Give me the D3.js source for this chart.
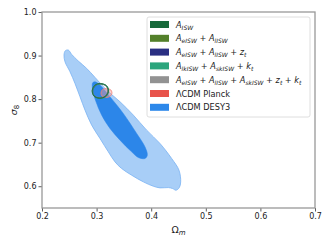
<!DOCTYPE html>
<html>
<head>
<meta charset="utf-8">
<script src="https://cdn.jsdelivr.net/npm/d3@7"></script>
<style>
  body { margin: 0; background: #fff; }
  svg { display: block; font-family: "DejaVu Sans", sans-serif; }
</style>
</head>
<body>
<svg id="chart" width="330" height="248"></svg>
<script>
// contour outlines, [Omega_m, sigma_8]
const desOuter = [
  [0.2427, 0.9111], [0.2482, 0.9126], [0.2543, 0.9027], [0.2665, 0.8874],
  [0.2818, 0.8705], [0.2971, 0.8498], [0.3184, 0.8207], [0.3429, 0.7939],
  [0.3673, 0.7632], [0.3917, 0.7287], [0.4161, 0.6981], [0.4375, 0.6636],
  [0.4509, 0.6368], [0.4540, 0.6100], [0.4515, 0.5969], [0.4454, 0.5908],
  [0.4393, 0.5946], [0.4314, 0.5969], [0.4161, 0.5962], [0.4039, 0.6000],
  [0.3856, 0.6100], [0.3642, 0.6253], [0.3459, 0.6406], [0.3337, 0.6559],
  [0.3215, 0.6789], [0.3062, 0.7096], [0.2910, 0.7402], [0.2788, 0.7747],
  [0.2696, 0.8054], [0.2604, 0.8360], [0.2513, 0.8628], [0.2421, 0.8858],
  [0.2403, 0.9011]
];
const desInner = [
  [0.2928, 0.8375], [0.2971, 0.8398], [0.3062, 0.8322], [0.3245, 0.8054],
  [0.3489, 0.7670], [0.3734, 0.7211], [0.3886, 0.6904], [0.3929, 0.6713],
  [0.3886, 0.6636], [0.3764, 0.6659], [0.3642, 0.6789], [0.3429, 0.7057],
  [0.3245, 0.7326], [0.3093, 0.7632], [0.2989, 0.7939], [0.2928, 0.8207]
];
const planck = [
  [0.318, 0.824], [0.326, 0.821], [0.328, 0.813], [0.324, 0.806],
  [0.317, 0.804], [0.310, 0.807], [0.308, 0.814], [0.311, 0.822]
];
const iswGray = [
  [0.307, 0.834], [0.317, 0.830], [0.321, 0.818], [0.316, 0.807],
  [0.306, 0.803], [0.296, 0.808], [0.293, 0.819], [0.298, 0.831]
];
const iswNavy = [
  [0.307, 0.835], [0.318, 0.830], [0.321, 0.818], [0.316, 0.806],
  [0.306, 0.802], [0.296, 0.807], [0.293, 0.819], [0.298, 0.831]
];
const iswOlive = [
  [0.306, 0.835], [0.317, 0.831], [0.321, 0.819], [0.316, 0.807],
  [0.305, 0.803], [0.295, 0.808], [0.292, 0.820], [0.297, 0.832]
];
const iswTeal = [
  [0.308, 0.835], [0.319, 0.830], [0.322, 0.817], [0.317, 0.805],
  [0.306, 0.801], [0.296, 0.806], [0.293, 0.819], [0.298, 0.831]
];
const iswDark = [
  [0.307, 0.836], [0.318, 0.831], [0.322, 0.818], [0.316, 0.806],
  [0.305, 0.802], [0.295, 0.807], [0.292, 0.820], [0.297, 0.832]
];

const xTicks = [0.2, 0.3, 0.4, 0.5, 0.6, 0.7];
const yTicks = [0.6, 0.7, 0.8, 0.9, 1.0];

// legend entries: [main, subscript] pieces, null subscript = plain text
const legendLabels = [
  [["A", "ISW"]],
  [["A", "eISW"], [" + "], ["A", "lISW"]],
  [["A", "eISW"], [" + "], ["A", "lISW"], [" + "], ["z", "t"]],
  [["A", "lkISW"], [" + "], ["A", "skISW"], [" + "], ["k", "t"]],
  [["A", "eISW"], [" + "], ["A", "lISW"], [" + "], ["A", "skISW"], [" + "], ["z", "t"], [" + "], ["k", "t"]],
  [["ΛCDM Planck"]],
  [["ΛCDM DESY3"]]
];
const legendColors = ["#17693a", "#53802a", "#2a2f82", "#2ba57c", "#929292", "#e8534b", "#2d88ea"];

const svg = d3.select("#chart");
const margin = { left: 42, right: 15, top: 12, bottom: 40 };
const W = 330, H = 248;

const x = d3.scaleLinear().domain([0.2, 0.7]).range([margin.left, W - margin.right]);
const y = d3.scaleLinear().domain([0.55, 1.0]).range([H - margin.bottom, margin.top]);

const line = d3.line()
  .x((d) => x(d[0]))
  .y((d) => y(d[1]))
  .curve(d3.curveCatmullRomClosed.alpha(0.5));

const plot = svg.append("g");

plot.append("path").attr("d", line(desOuter))
  .attr("fill", "#a8cef7").attr("stroke", "#7ab3f2").attr("stroke-width", 0.8);
plot.append("path").attr("d", line(desInner))
  .attr("fill", "#2c86e9").attr("stroke", "#2c86e9").attr("stroke-width", 0.5);
plot.append("path").attr("d", line(planck))
  .attr("fill", "#f19a94").attr("fill-opacity", 0.45)
  .attr("stroke", "#ee8078").attr("stroke-width", 0.9);

[[iswGray, "#929292"], [iswNavy, "#2a2f82"], [iswOlive, "#53802a"],
 [iswTeal, "#2ba57c"], [iswDark, "#17693a"]].forEach(([pts, c]) => {
  plot.append("path").attr("d", line(pts))
    .attr("fill", "none").attr("stroke", c).attr("stroke-width", 0.8)
    .attr("stroke-opacity", 0.9);
});

// axes
const xAxis = svg.append("g")
  .attr("transform", `translate(0,${H - margin.bottom})`)
  .call(d3.axisBottom(x).tickValues(xTicks).tickSize(3.5).tickPadding(2).tickFormat(d3.format(".1f")));
const yAxis = svg.append("g")
  .attr("transform", `translate(${margin.left},0)`)
  .call(d3.axisLeft(y).tickValues(yTicks).tickSize(3.5).tickPadding(2).tickFormat(d3.format(".1f")));
[xAxis, yAxis].forEach((g) => {
  g.select(".domain").remove();
  g.selectAll(".tick line").attr("stroke", "#333").attr("stroke-width", 0.8);
  g.selectAll(".tick text").attr("font-size", 8).attr("fill", "#222")
    .attr("font-family", "DejaVu Sans");
});

svg.append("rect")
  .attr("x", margin.left).attr("y", margin.top)
  .attr("width", W - margin.left - margin.right)
  .attr("height", H - margin.top - margin.bottom)
  .attr("fill", "none").attr("stroke", "#999").attr("stroke-width", 1.3);

// axis labels
svg.append("text")
  .attr("x", (margin.left + W - margin.right) / 2).attr("y", 233)
  .attr("text-anchor", "middle").attr("font-size", 9.5).attr("fill", "#222")
  .call((t) => {
    t.append("tspan").text("Ω");
    t.append("tspan").attr("font-style", "italic").attr("font-size", 7)
      .attr("baseline-shift", -2).text("m");
  });
svg.append("text")
  .attr("transform", `translate(17,${(margin.top + H - margin.bottom) / 2}) rotate(-90)`)
  .attr("text-anchor", "middle").attr("font-size", 9.5).attr("fill", "#222")
  .call((t) => {
    t.append("tspan").attr("font-style", "italic").text("σ");
    t.append("tspan").attr("font-size", 7).attr("baseline-shift", -2).text("8");
  });

// legend
const leg = svg.append("g");
leg.append("rect")
  .attr("x", 147).attr("y", 17).attr("width", 163).attr("height", 100).attr("rx", 2)
  .attr("fill", "#fff").attr("fill-opacity", 0.85)
  .attr("stroke", "#d6d6d6").attr("stroke-width", 0.8);

legendLabels.forEach((parts, i) => {
  const cy = 24.5 + i * 13.8;
  leg.append("rect")
    .attr("x", 150).attr("y", cy - 3.5).attr("width", 19).attr("height", 7)
    .attr("fill", legendColors[i]);
  const t = leg.append("text")
    .attr("x", 176).attr("y", cy + 3).attr("font-size", 8.2).attr("fill", "#222");
  parts.forEach(([main, sub]) => {
    if (sub === undefined) {
      t.append("tspan").text(main === " + " ? "\u00a0+\u00a0" : main);
      return;
    }
    t.append("tspan").attr("font-style", "italic").text(main);
    t.append("tspan").attr("font-style", "italic").attr("font-size", 6)
      .attr("baseline-shift", -1.6).text(sub);
  });
});
</script>
</body>
</html>
